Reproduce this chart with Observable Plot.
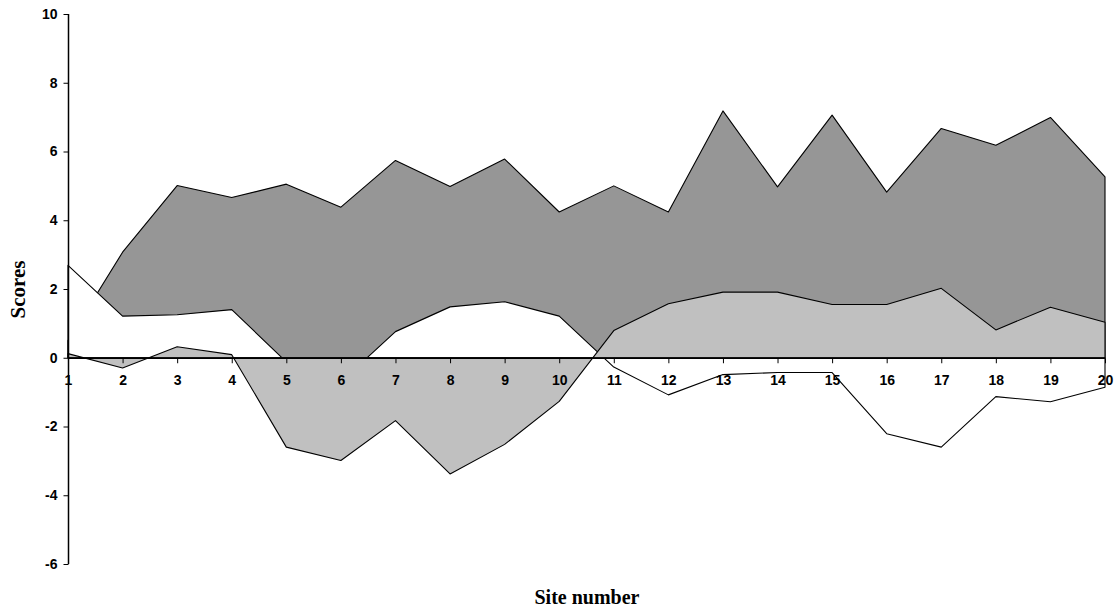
<!DOCTYPE html>
<html>
<head>
<meta charset="utf-8">
<script src="https://cdn.jsdelivr.net/npm/d3@7"></script>
<script src="https://cdn.jsdelivr.net/npm/@observablehq/plot@0.6"></script>
<style>
  html, body { margin: 0; padding: 0; background: #ffffff; }
  #chart svg { display: block; }
</style>
</head>
<body>
<div id="chart"></div>
<script>
// ---- Data ----
const sites = [1, 2, 3, 4, 5, 6, 7, 8, 9, 10, 11, 12, 13, 14, 15, 16, 17, 18, 19, 20];
// dark grey area series (drawn first)
const darkSeries  = [0.50, 3.07, 5.01, 4.66, 5.05, 4.38, 5.74, 4.98, 5.78, 4.24, 5.00, 4.24, 7.18, 4.97, 7.06, 4.82, 6.67, 6.18, 6.99, 5.26];
// white area series (drawn second)
const whiteSeries = [2.69, 1.21, 1.25, 1.40, -0.12, -0.70, 0.76, 1.48, 1.63, 1.21, -0.27, -1.08, -0.49, -0.43, -0.43, -2.21, -2.60, -1.13, -1.28, -0.86];
// light grey area series (drawn last)
const lightSeries = [0.12, -0.30, 0.32, 0.09, -2.60, -2.99, -1.83, -3.38, -2.52, -1.27, 0.79, 1.57, 1.91, 1.91, 1.55, 1.55, 2.02, 0.81, 1.47, 1.03];
const yTicks = [-6, -4, -2, 0, 2, 4, 6, 8, 10];
const xTitle = "Site number";
const yTitle = "Scores";

const rows = (vals) => sites.map((s, i) => ({site: s, value: vals[i]}));
const darkData = rows(darkSeries);
const whiteData = rows(whiteSeries);
const lightData = rows(lightSeries);

const sansFont = "'Liberation Sans', Arial, sans-serif";
const serifFont = "'Liberation Serif', 'Times New Roman', serif";

// small tick symbols: downward for x (on the zero line), leftward for y
const tickDown = { draw(context) { context.moveTo(0, 0); context.lineTo(0, 5); } };
const tickLeft = { draw(context) { context.moveTo(0, 0); context.lineTo(-5, 0); } };

const chart = Plot.plot({
  width: 1116,
  height: 610,
  marginLeft: 68,
  marginRight: 11,
  marginTop: 14,
  marginBottom: 46,
  style: { background: "#ffffff", fontFamily: sansFont, color: "#000" },
  x: { domain: [1, 20], axis: null },
  y: { domain: [-6, 10], axis: null },
  marks: [
    Plot.areaY(darkData,  { x: "site", y: "value", fill: "#969696", stroke: "#000", strokeWidth: 1.1 }),
    Plot.areaY(whiteData, { x: "site", y: "value", fill: "#ffffff", stroke: "#000", strokeWidth: 1.1 }),
    Plot.areaY(lightData, { x: "site", y: "value", fill: "#c0c0c0", stroke: "#000", strokeWidth: 1.1 }),
    // zero line acting as the category axis
    Plot.ruleY([0], { stroke: "#000", strokeWidth: 1.5 }),
    // value axis line
    Plot.ruleX([1], { stroke: "#000", strokeWidth: 1.5 }),
    // y ticks and labels
    Plot.dot(yTicks, { x: () => 1, y: (d) => d, symbol: tickLeft, fill: "none", stroke: "#000", strokeWidth: 1 }),
    Plot.text(yTicks, {
      x: () => 1, y: (d) => d, text: (d) => String(d),
      dx: -11, textAnchor: "end", fontSize: 14, fontWeight: "bold", fill: "#000", fontFamily: sansFont
    }),
    // x ticks and labels placed along the zero line
    Plot.dot(sites, { x: (d) => d, y: () => 0, symbol: tickDown, fill: "none", stroke: "#000", strokeWidth: 1 }),
    Plot.text(sites, {
      x: (d) => d, y: () => 0, text: (d) => String(d),
      dy: 22, fontSize: 14, fontWeight: "bold", fill: "#000", fontFamily: sansFont
    }),
    // axis titles
    Plot.text([yTitle], {
      frameAnchor: "left", dx: -50, rotate: -90, text: (d) => d,
      textAnchor: "middle", lineAnchor: "middle",
      fontSize: 21, fontWeight: "bold", fontFamily: serifFont, fill: "#000"
    }),
    Plot.text([xTitle], {
      frameAnchor: "bottom", dy: 33, text: (d) => d,
      textAnchor: "middle", lineAnchor: "middle",
      fontSize: 20, fontWeight: "bold", fontFamily: serifFont, fill: "#000"
    })
  ]
});

document.getElementById("chart").appendChild(chart);
</script>
</body>
</html>
